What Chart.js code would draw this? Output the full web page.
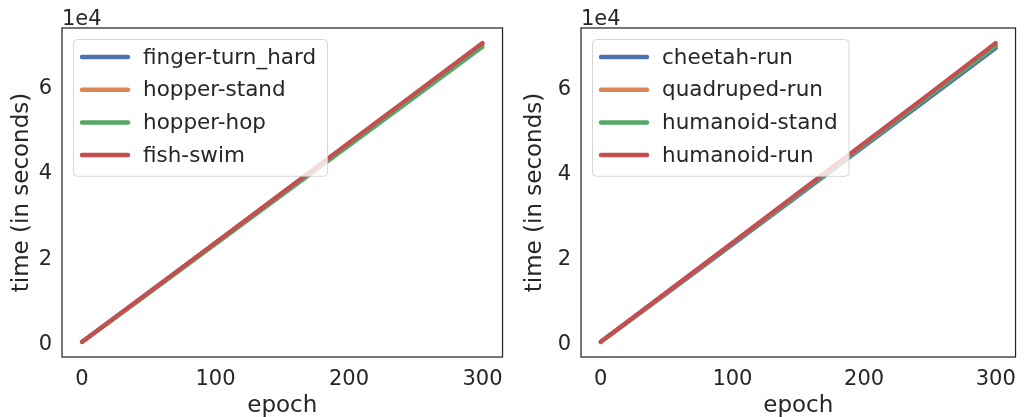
<!DOCTYPE html>
<html>
<head>
<meta charset="utf-8">
<script src="https://cdn.jsdelivr.net/npm/chart.js@4.4.0/dist/chart.umd.min.js"></script>
<style>
  html, body { margin: 0; padding: 0; background: #ffffff; }
  .panel { position: absolute; top: 0; width: 513px; height: 417px; }
</style>
</head>
<body>
<div class="panel" style="left:0"><canvas id="chart-left" width="513" height="417"></canvas></div>
<div class="panel" style="left:513px"><canvas id="chart-right" width="513" height="417"></canvas></div>
<script>
const epochs = [0, 50, 100, 150, 200, 250, 300];
const xTicks = [0, 100, 200, 300];
const yTicks = [0, 20000, 40000, 60000];

// left panel
const leftNames = ['finger-turn_hard', 'hopper-stand', 'hopper-hop', 'fish-swim'];
const fingerTurnHard = [150, 11700, 23300, 34900, 46600, 58250, 69900];
const hopperStand = [150, 11700, 23350, 35000, 46650, 58300, 70000];
const hopperHop = [100, 11550, 23050, 34600, 46150, 57700, 69300];
const fishSwim = [150, 11750, 23400, 35100, 46800, 58500, 70200];

// right panel
const rightNames = ['cheetah-run', 'quadruped-run', 'humanoid-stand', 'humanoid-run'];
const cheetahRun = [100, 11550, 23100, 34650, 46250, 57800, 69400];
const quadrupedRun = [150, 11700, 23350, 35000, 46650, 58300, 70000];
const humanoidStand = [150, 11700, 23300, 34950, 46600, 58250, 69900];
const humanoidRun = [200, 11850, 23500, 35250, 46950, 58700, 70600];

const colors = ['#4c72b0', '#dd8452', '#55a868', '#c44e52'];
const textColor = '#262626';
const fontFamily = '"DejaVu Sans", sans-serif';

/**
 * Frame, offset text and an inside legend drawn like matplotlib
 */
const mplPlugin = {
    id: 'mplStyle',
    afterDatasetsDraw(chart) {
        const ctx = chart.ctx;
        const area = chart.chartArea;

        // legend box in the upper left corner
        ctx.save();
        ctx.font = '21.5px ' + fontFamily;
        const items = chart.data.datasets;
        let maxText = 0;
        items.forEach(ds => { maxText = Math.max(maxText, ctx.measureText(ds.label).width); });
        const bx = area.left + 11;
        const by = area.top + 11;
        const rowH = 32.7;
        const bw = 70 + maxText + 11;
        const bh = rowH * items.length + 6;
        ctx.beginPath();
        ctx.roundRect(bx + 0.5, by + 0.5, bw, bh, 4);
        ctx.fillStyle = 'rgba(255,255,255,0.8)';
        ctx.fill();
        ctx.strokeStyle = 'rgba(204,204,204,0.8)';
        ctx.lineWidth = 1;
        ctx.stroke();
        items.forEach((ds, i) => {
            const cy = by + 18 + i * rowH;
            ctx.beginPath();
            ctx.moveTo(bx + 9, cy);
            ctx.lineTo(bx + 55, cy);
            ctx.strokeStyle = ds.borderColor;
            ctx.lineWidth = 4.5;
            ctx.lineCap = 'round';
            ctx.stroke();
            ctx.fillStyle = textColor;
            ctx.textBaseline = 'middle';
            ctx.textAlign = 'left';
            ctx.fillText(ds.label, bx + 70, cy + 1);
        });
        ctx.restore();
    },
    afterDraw(chart) {
        const ctx = chart.ctx;
        const area = chart.chartArea;
        ctx.save();
        ctx.strokeStyle = textColor;
        ctx.lineWidth = 1.25;
        ctx.strokeRect(area.left, area.top, area.right - area.left, area.bottom - area.top);
        ctx.fillStyle = textColor;
        ctx.font = '21px ' + fontFamily;
        ctx.textAlign = 'left';
        ctx.textBaseline = 'alphabetic';
        ctx.fillText('1e4', area.left, area.top - 3);
        ctx.restore();
    }
};

function yLimits(seriesList) {
    const all = [].concat(...seriesList);
    const lo = Math.min(...all);
    const hi = Math.max(...all);
    const pad = (hi - lo) * 0.05;
    return { min: lo - pad, max: hi + pad };
}

function makeChart(canvasId, names, seriesList, leftWidth, rightPad) {
    const lim = yLimits(seriesList);
    const datasets = seriesList.map((values, i) => ({
        label: names[i],
        data: values.map((v, j) => ({ x: epochs[j], y: v })),
        borderColor: colors[i],
        backgroundColor: colors[i],
        borderWidth: 4.2,
        borderCapStyle: 'round',
        pointRadius: 0,
        tension: 0,
        order: seriesList.length - i
    }));

    return new Chart(document.getElementById(canvasId), {
        type: 'line',
        data: { datasets: datasets },
        options: {
            responsive: false,
            animation: false,
            layout: { padding: { top: 28, right: rightPad, bottom: 0, left: 0 } },
            plugins: {
                legend: { display: false },
                tooltip: { enabled: false }
            },
            scales: {
                x: {
                    type: 'linear',
                    min: -15,
                    max: 315,
                    grid: { display: false, drawTicks: false },
                    border: { display: false },
                    afterBuildTicks: scale => { scale.ticks = xTicks.map(v => ({ value: v })); },
                    afterFit: scale => { scale.height = 60; },
                    ticks: {
                        color: textColor,
                        padding: 10,
                        maxRotation: 0,
                        font: { family: fontFamily, size: 21 }
                    },
                    title: {
                        display: true,
                        text: 'epoch',
                        color: textColor,
                        padding: { top: 0, bottom: -3 },
                        font: { family: fontFamily, size: 23 }
                    }
                },
                y: {
                    type: 'linear',
                    min: lim.min,
                    max: lim.max,
                    grid: { display: false, drawTicks: false },
                    border: { display: false },
                    afterBuildTicks: scale => { scale.ticks = yTicks.map(v => ({ value: v })); },
                    afterFit: scale => { scale.width = leftWidth; },
                    ticks: {
                        color: textColor,
                        padding: 10,
                        labelOffset: 2,
                        font: { family: fontFamily, size: 21 },
                        callback: v => String(v / 10000)
                    },
                    title: {
                        display: true,
                        text: 'time (in seconds)',
                        color: textColor,
                        padding: { top: 8 },
                        font: { family: fontFamily, size: 23 }
                    }
                }
            }
        },
        plugins: [mplPlugin]
    });
}

makeChart('chart-left', leftNames, [fingerTurnHard, hopperStand, hopperHop, fishSwim], 62, 10);
makeChart('chart-right', rightNames, [cheetahRun, quadrupedRun, humanoidStand, humanoidRun], 68, 4);
</script>
</body>
</html>
